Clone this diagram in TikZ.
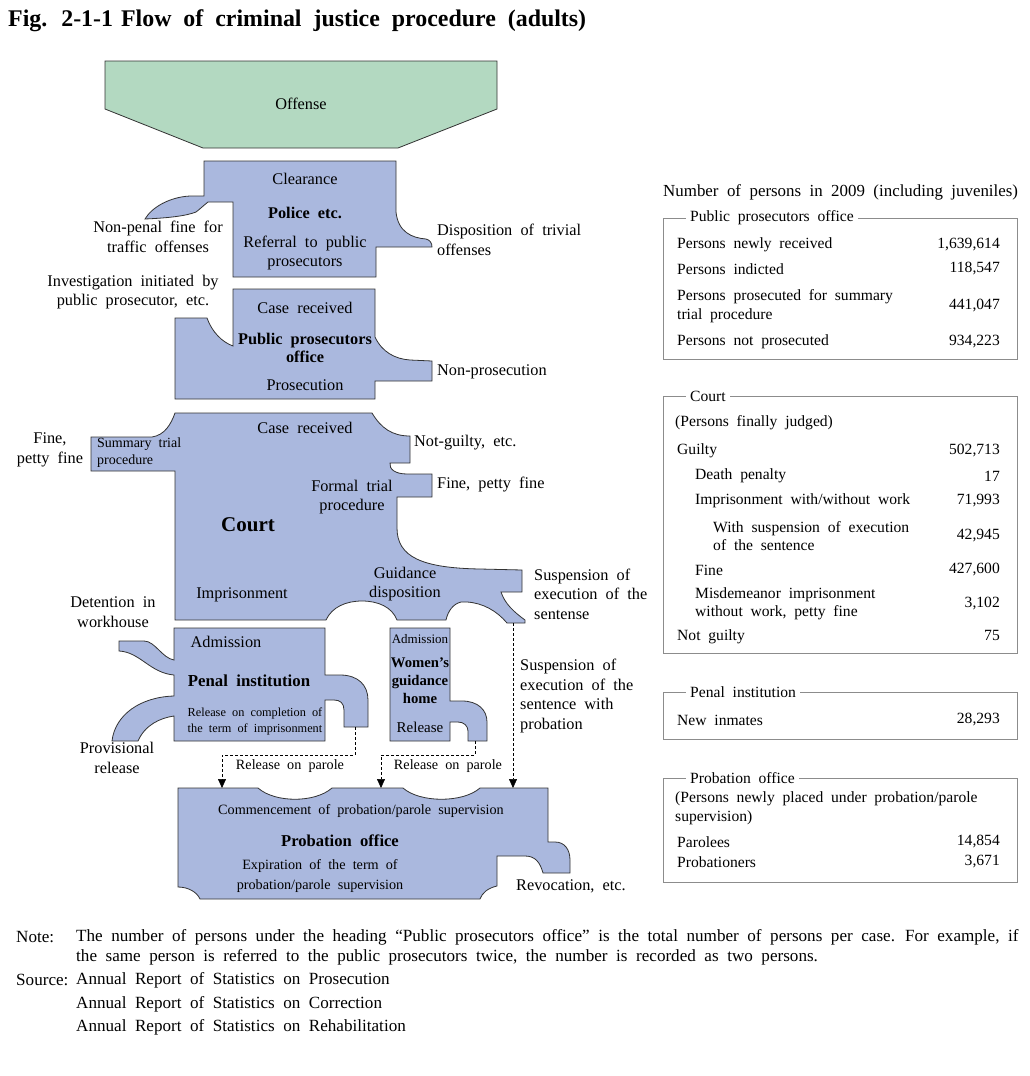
\documentclass[tikz,border=0pt]{standalone}
\usepackage{fontspec}
\setmainfont{Liberation Serif}[WordSpace=2]
\usetikzlibrary{arrows.meta}
\definecolor{orgblue}{HTML}{AAB8DE}
\definecolor{offgreen}{HTML}{B3D9C1}
\definecolor{framegray}{HTML}{8C8C8C}
\tikzset{
  organ/.style={draw=black!80, line width=0.8pt, fill=orgblue},
  txt/.style={font=\fontsize{16.3}{19.5}\selectfont, inner sep=0pt, align=center},
  small/.style={font=\fontsize{14}{17}\selectfont, inner sep=0pt, align=center},
  bold/.style={font=\fontsize{16.3}{18.5}\selectfont\bfseries, inner sep=0pt, align=center},
  prob/.style={font=\fontsize{14.2}{20}\selectfont, inner sep=0pt, align=center},
  tab/.style={font=\fontsize{15.6}{18.5}\selectfont, inner sep=0pt},
  row/.style={tab, anchor=west, align=left},
  num/.style={tab, anchor=east},
  note/.style={font=\fontsize{17.1}{20}\selectfont, inner sep=0pt, anchor=west},
  frame/.style={draw=framegray, line width=0.8pt},
  boxtitle/.style={tab, anchor=west, fill=white, inner xsep=4pt, inner ysep=1pt},
  conn/.style={draw, line width=0.6pt, dash pattern=on 3pt off 2pt, -{Triangle[width=8pt,length=9pt]}}
}
\begin{document}
\begin{tikzpicture}[x=1pt,y=-1pt]
\useasboundingbox (0,0) rectangle (1030,1076);
\node[font=\fontsize{23.9}{26}\selectfont\bfseries, inner sep=0pt, anchor=west] (title) at (8,21) {Fig. 2-1-1\hspace{8pt}Flow of criminal justice procedure (adults)};

% offense
\path[draw=black!80, line width=0.8pt, fill=offgreen] (105,61) -- (497,61) -- (497,109) -- (398,148) -- (203,148) -- (105,109) -- cycle;
\node[txt] (off) at (301,104) {Offense};

% police
\path[organ] (204,161) -- (396,161) -- (396,212) .. controls (398,232) and (412,238) .. (426,239) .. controls (430,240) and (432,243) .. (432,247) -- (376,247) -- (376,277) -- (233,277) -- (233,202) -- (208,202) .. controls (203,206) and (200,209) .. (196,212) .. controls (186,216) and (168,218) .. (145,219) .. controls (152,207) and (170,197) .. (190,196) -- (204,196) -- cycle;
\node[txt] (clear) at (305,179) {Clearance};
\node[bold] (police) at (305,213) {Police etc.};
\node[txt] (referral) at (305,253) {Referral to public\\prosecutors};
\node[txt] (nonpenal) at (158,237) {Non-penal fine for\\traffic offenses};
\node[txt, anchor=west, align=left] (trivial) at (437,240) {Disposition of trivial\\offenses};

% public prosecutors office
\path[organ] (233,289) -- (375,289) -- (375,337) .. controls (382,352) and (395,359) .. (410,360) -- (432,361) -- (432,381) -- (375,381) -- (375,399) -- (175,399) -- (175,318) -- (207,318) .. controls (212,332) and (222,342) .. (233,346) -- cycle;
\node[txt] (ppin) at (305,308) {Case received};
\node[bold] (pp) at (305,348) {Public prosecutors\\office};
\node[txt] (prosec) at (305,385) {Prosecution};
\node[txt] (invest) at (133,292) {Investigation initiated by\\public prosecutor, etc.};
\node[txt, anchor=west] (nonpros) at (437,372) {Non-prosecution};

% court
\path[organ] (91,437) -- (152,437) .. controls (165,435) and (171,424) .. (175,413) -- (372,413) .. controls (381,428) and (392,436) .. (410,436) -- (410,463) -- (390,463) .. controls (389,469) and (395,474) .. (407,474) -- (432,474) -- (432,497) -- (397,497) -- (397,528) .. controls (397,557) and (422,568) .. (480,569) -- (522,570) -- (522,592) -- (501,592) .. controls (505,604) and (514,612) .. (525,620) -- (525,623) -- (507,623) .. controls (497,611) and (483,603) .. (467,602) -- (461,602) .. controls (453,604) and (448,611) .. (446,620) -- (397,620) .. controls (392,607) and (378,601) .. (362,601) .. controls (346,601) and (332,607) .. (326,620) -- (175,620) -- (175,471) -- (91,471) -- cycle;
\node[txt] (ctin) at (305,428) {Case received};
\node[small, anchor=west, align=left] (summary) at (97,453) {Summary trial\\procedure};
\node[font=\fontsize{21}{24}\selectfont\bfseries, inner sep=0pt] (court) at (248,525) {Court};
\node[txt] (formal) at (352,497) {Formal trial\\procedure};
\node[txt] (impris) at (242,595) {Imprisonment};
\node[txt] (guid) at (405,584) {Guidance\\disposition};
\node[txt] (finel) at (50,450) {Fine,\\petty fine};
\node[txt, anchor=west] (notguilty) at (414,443) {Not-guilty, etc.};
\node[txt, anchor=west] (finer) at (437,485) {Fine, petty fine};
\node[txt, anchor=west, align=left] (suspsent) at (534,594) {Suspension of\\execution of the\\sentense};
\node[txt] (deten) at (113,612) {Detention in\\workhouse};

% penal institution
\path[organ] (174,628) -- (325,628) -- (325,675) -- (340,675) .. controls (358,675) and (368,685) .. (368,700) -- (368,727) -- (344,727) -- (344,710) .. controls (344,703) and (340,700) .. (334,700) -- (325,700) -- (325,741) -- (174,741) -- (174,716) .. controls (160,718) and (145,725) .. (138,741) -- (112,741) .. controls (115,715) and (140,697) .. (174,696) -- (174,675) .. controls (150,673) and (140,652) .. (119,651) -- (119,641) -- (144,641) .. controls (155,641) and (162,658) .. (174,660) -- cycle;
\node[txt] (penin) at (226,642) {Admission};
\node[font=\fontsize{16.8}{19}\selectfont\bfseries, inner sep=0pt] (penal) at (249,681) {Penal institution};
\node[font=\fontsize{12.3}{16}\selectfont, inner sep=0pt, align=center] (complete) at (255,721) {Release on completion of\\the term of imprisonment};
\node[txt] (provis) at (117,758) {Provisional\\release};

% women's guidance home
\path[organ] (390,628) -- (450,628) -- (450,701) -- (462,701) .. controls (478,701) and (487,710) .. (487,722) -- (487,741) -- (468,741) -- (468,731) .. controls (468,726) and (464,722) .. (458,722) -- (450,722) -- (450,741) -- (390,741) -- cycle;
\node[font=\fontsize{13}{15}\selectfont, inner sep=0pt] (womin) at (420,639) {Admission};
\node[font=\fontsize{14.7}{18}\selectfont\bfseries, inner sep=0pt, align=center] (women) at (420,681) {Women's\\guidance\\home};
\node[font=\fontsize{15}{18}\selectfont, inner sep=0pt] (womout) at (420,727) {Release};
\node[txt, anchor=west, align=left] (suspprob) at (520,696) {Suspension of\\execution of the\\sentence with\\probation};

% probation office
\path[organ] (178,788) -- (258,788) .. controls (275,803) and (315,803) .. (332,788) -- (403,788) .. controls (420,803) and (463,803) .. (480,788) -- (548,788) -- (548,842) -- (555,842) .. controls (565,842) and (570,850) .. (570,860) -- (570,873) -- (543,873) .. controls (540,862) and (535,856) .. (525,856) -- (497,856) -- (497,886) .. controls (488,888) and (482,893) .. (480,899) -- (200,899) .. controls (197,892) and (188,887) .. (178,887) -- cycle;
\node[prob] (commence) at (361,811) {Commencement of probation/parole supervision};
\node[font=\fontsize{16.6}{19}\selectfont\bfseries, inner sep=0pt] (probation) at (340,841) {Probation office};
\node[prob] (expire) at (320,876) {Expiration of the term of\\probation/parole supervision};
\node[txt, anchor=west] (revoc) at (516,886) {Revocation, etc.};

% connectors
\coordinate (penrel) at (355,727);
\coordinate (womrel) at (475,741);
\coordinate (susptip) at (513,623);
\coordinate (prob1) at (222,788);
\coordinate (prob2) at (381,788);
\coordinate (prob3) at (513,788);
\path[conn] (penrel) -- ++(0,28) -| (prob1);
\path[conn] (womrel) -- ++(0,14) -| (prob2);
\path[conn] (susptip) -- (prob3);
\node[prob] (parole1) at (290,766) {Release on parole};
\node[prob] (parole2) at (448,766) {Release on parole};

% numbers
\node[font=\fontsize{16.9}{19}\selectfont, inner sep=0pt, anchor=west] (numhead) at (663,192) {Number of persons in 2009 (including juveniles)};

\path[frame] (663,218) rectangle (1017,359);
\node[boxtitle] (ppt) at (686,218) {Public prosecutors office};
\node[row] (pp1) at (677,245) {Persons newly received};
\node[num] (pp1v) at (1000,245) {1,639,614};
\node[row] (pp2) at (677,269) {Persons indicted};
\node[num] (pp2v) at (1000,269) {118,547};
\node[row] (pp3) at (677,306) {Persons prosecuted for summary\\trial procedure};
\node[num] (pp3v) at (1000,306) {441,047};
\node[row] (pp4) at (677,342) {Persons not prosecuted};
\node[num] (pp4v) at (1000,342) {934,223};

\path[frame] (663,396) rectangle (1017,653);
\node[boxtitle] (ctt) at (686,396) {Court};
\node[row] (ct0) at (675,423) {(Persons finally judged)};
\node[row] (ct1) at (677,451) {Guilty};
\node[num] (ct1v) at (1000,451) {502,713};
\node[row] (ct2) at (695,476) {Death penalty};
\node[num] (ct2v) at (1000,476) {17};
\node[row] (ct3) at (695,501) {Imprisonment with/without work};
\node[num] (ct3v) at (1000,501) {71,993};
\node[row] (ct4) at (713,536) {With suspension of execution\\of the sentence};
\node[num] (ct4v) at (1000,536) {42,945};
\node[row] (ct5) at (695,570) {Fine};
\node[num] (ct5v) at (1000,570) {427,600};
\node[row] (ct6) at (695,604) {Misdemeanor imprisonment\\without work, petty fine};
\node[num] (ct6v) at (1000,604) {3,102};
\node[row] (ct7) at (677,637) {Not guilty};
\node[num] (ct7v) at (1000,635) {75};

\path[frame] (663,692) rectangle (1017,739);
\node[boxtitle] (pnt) at (686,692) {Penal institution};
\node[row] (pn1) at (677,720) {New inmates};
\node[num] (pn1v) at (1000,720) {28,293};

\path[frame] (663,778) rectangle (1017,882);
\node[boxtitle] (pbt) at (686,778) {Probation office};
\node[row] (pb0) at (675,808) {(Persons newly placed under probation/parole\\supervision)};
\node[row] (pb1) at (677,842) {Parolees};
\node[num] (pb1v) at (1000,842) {14,854};
\node[row] (pb2) at (677,862) {Probationers};
\node[num] (pb2v) at (1000,862) {3,671};

% notes
\node[note] (notel) at (16,937) {Note:};
\node[note] (note1) at (76,937) {The number of persons under the heading “Public prosecutors office” is the total number of persons per case. For example, if};
\node[note] (note2) at (76,957) {the same person is referred to the public prosecutors twice, the number is recorded as two persons.};
\node[note] (srcl) at (16,980) {Source:};
\node[note] (src1) at (76,980) {Annual Report of Statistics on Prosecution};
\node[note] (src2) at (76,1004) {Annual Report of Statistics on Correction};
\node[note] (src3) at (76,1027) {Annual Report of Statistics on Rehabilitation};
\end{tikzpicture}
\end{document}
